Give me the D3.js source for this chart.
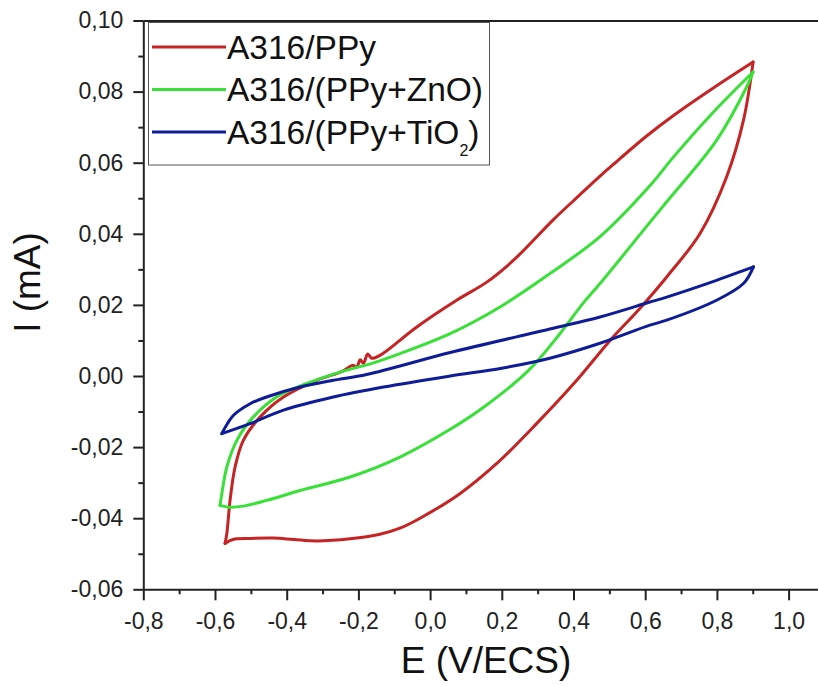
<!DOCTYPE html>
<html>
<head>
<meta charset="utf-8">
<script src="https://cdn.jsdelivr.net/npm/d3@7"></script>
<style>
  body { margin: 0; background: #fff; }
  svg { display: block; font-family: "Liberation Sans", Arial, sans-serif; }
</style>
</head>
<body>
<svg id="chart" width="818" height="686"></svg>
<script>
// cyclic voltammograms, [E (V/ECS), I (mA)], one array per scan branch
const ppyForward = [
  [-0.572, -0.0471], [-0.567, -0.0443], [-0.558, -0.035], [-0.544, -0.0256],
  [-0.521, -0.0181], [-0.474, -0.0115], [-0.409, -0.0059], [-0.316, -0.0012],
  [-0.245, 0.0013], [-0.215, 0.003], [-0.205, 0.0024], [-0.195, 0.0046],
  [-0.186, 0.0036], [-0.174, 0.0062], [-0.163, 0.005], [-0.14, 0.0058],
  [-0.037, 0.0138], [0.074, 0.0213], [0.158, 0.0264], [0.232, 0.0325],
  [0.344, 0.044], [0.4, 0.0493], [0.474, 0.0562], [0.511, 0.0595],
  [0.604, 0.0675], [0.678, 0.0732], [0.79, 0.081], [0.901, 0.0883]
];
const ppyReverse = [
  [0.901, 0.0883], [0.874, 0.0719], [0.827, 0.056], [0.753, 0.0401],
  [0.661, 0.028], [0.585, 0.019], [0.502, 0.01], [0.409, -0.0012],
  [0.297, -0.0134], [0.186, -0.0246], [0.083, -0.0331], [-0.028, -0.04],
  [-0.084, -0.0428], [-0.14, -0.0445], [-0.223, -0.0458], [-0.316, -0.0464],
  [-0.38, -0.046], [-0.437, -0.0456], [-0.502, -0.0457], [-0.55, -0.046],
  [-0.572, -0.0471]
];
const znoForward = [
  [-0.586, -0.0364], [-0.581, -0.0331], [-0.567, -0.0256], [-0.539, -0.0181],
  [-0.493, -0.0115], [-0.428, -0.0059], [-0.344, -0.0021], [-0.251, 0.0011],
  [-0.158, 0.0037], [-0.084, 0.0063], [0.056, 0.0119], [0.195, 0.0194],
  [0.334, 0.0288], [0.474, 0.0392], [0.613, 0.0535], [0.678, 0.0615],
  [0.79, 0.0742], [0.901, 0.0855]
];
const znoReverse = [
  [0.901, 0.0855], [0.883, 0.0813], [0.799, 0.0663], [0.66, 0.049],
  [0.613, 0.0432], [0.474, 0.026], [0.427, 0.0205], [0.362, 0.0119],
  [0.274, 0.0015], [0.153, -0.0085], [0.056, -0.015], [-0.084, -0.0228],
  [-0.223, -0.0284], [-0.363, -0.0322], [-0.456, -0.035], [-0.521, -0.0366],
  [-0.56, -0.0369], [-0.586, -0.0364]
];
const tioForward = [
  [-0.581, -0.0162], [-0.566, -0.0135], [-0.549, -0.0111], [-0.502, -0.0078],
  [-0.456, -0.0059], [-0.363, -0.0031], [-0.27, -0.0012], [-0.177, 0.0004],
  [0.056, 0.0066], [0.334, 0.0132], [0.474, 0.0166], [0.613, 0.0208],
  [0.66, 0.0222], [0.799, 0.0269], [0.883, 0.03], [0.902, 0.0307]
];
const tioReverse = [
  [0.902, 0.0307], [0.874, 0.026], [0.799, 0.0213], [0.66, 0.0157],
  [0.613, 0.0143], [0.474, 0.0092], [0.334, 0.005], [0.2, 0.0022],
  [0.056, 0.0], [-0.13, -0.0031], [-0.27, -0.0059], [-0.409, -0.0096],
  [-0.502, -0.0134], [-0.581, -0.0162]
];

const seriesNames = ['A316/PPy', 'A316/(PPy+ZnO)', 'A316/(PPy+TiO2)'];
const xMajorTicks = [-0.8, -0.6, -0.4, -0.2, 0.0, 0.2, 0.4, 0.6, 0.8, 1.0];
const xMinorTicks = [-0.7, -0.5, -0.3, -0.1, 0.1, 0.3, 0.5, 0.7, 0.9];
const yMajorTicks = [-0.06, -0.04, -0.02, 0.0, 0.02, 0.04, 0.06, 0.08, 0.1];
const yMinorTicks = [-0.05, -0.03, -0.01, 0.01, 0.03, 0.05, 0.07, 0.09];

const colors = ['#c62424', '#38e038', '#0f1c98'];
const branches = [
  [ppyForward, ppyReverse],
  [znoForward, znoReverse],
  [tioForward, tioReverse]
];

const svg = d3.select('#chart');
const margin = { left: 143.3, top: 20.5, bottom: 589.3 };

// the original figure is cut off on the right, so the domain runs past the edge
const x = d3.scaleLinear().domain([-0.8, 1.2]).range([margin.left, margin.left + 2 * 358.5]);
const y = d3.scaleLinear().domain([-0.06, 0.1]).range([margin.bottom, margin.top]);

const comma = d3.formatLocale({ decimal: ',', thousands: '.', grouping: [3], currency: ['', ''], minus: '-' });
const fmtX = comma.format('.1f');
const fmtY = comma.format('.2f');

// top frame line
svg.append('line')
  .attr('x1', x(-0.8)).attr('x2', x(1.2))
  .attr('y1', 21).attr('y2', 21)
  .attr('stroke', '#222').attr('stroke-width', 2);

// curves
const line = d3.line()
  .x((d) => x(d[0]))
  .y((d) => y(d[1]))
  .curve(d3.curveCatmullRom.alpha(0.5));

branches.forEach((pair, i) => {
  pair.forEach((b) => {
    const pts = b.slice().sort((a, c) => a[0] - c[0]);
    svg.append('path')
      .attr('d', line(pts))
      .attr('fill', 'none')
      .attr('stroke', colors[i])
      .attr('stroke-width', 3)
      .attr('stroke-linejoin', 'round')
      .attr('stroke-linecap', 'round');
  });
});

// axes
function styleAxis(g) {
  g.selectAll('path, line').attr('stroke', '#222').attr('stroke-width', 2);
  g.selectAll('text').attr('fill', '#222').attr('font-size', 23)
    .attr('font-family', '"Liberation Sans", Arial, sans-serif');
}

svg.append('g')
  .attr('transform', `translate(0,${margin.bottom})`)
  .call(d3.axisBottom(x).tickValues(xMinorTicks).tickSize(5).tickFormat(''))
  .call((g) => g.select('.domain').remove())
  .call(styleAxis);

svg.append('g')
  .attr('transform', `translate(0,${margin.bottom})`)
  .call(d3.axisBottom(x).tickValues(xMajorTicks).tickSize(11).tickSizeOuter(0).tickPadding(12).tickFormat(fmtX))
  .call(styleAxis);

svg.append('g')
  .attr('transform', `translate(${margin.left},0)`)
  .call(d3.axisLeft(y).tickValues(yMinorTicks).tickSize(5).tickFormat(''))
  .call((g) => g.select('.domain').remove())
  .call(styleAxis);

svg.append('g')
  .attr('transform', `translate(${margin.left},0)`)
  .call(d3.axisLeft(y).tickValues(yMajorTicks).tickSize(10).tickSizeOuter(0).tickPadding(10).tickFormat(fmtY))
  .call(styleAxis);

// axis titles
svg.append('text')
  .attr('x', 486).attr('y', 673)
  .attr('text-anchor', 'middle')
  .attr('font-size', 37).attr('fill', '#111')
  .text('E (V/ECS)');

svg.append('text')
  .attr('transform', 'translate(40,282.5) rotate(-90)')
  .attr('text-anchor', 'middle')
  .attr('font-size', 37).attr('fill', '#111')
  .text('I (mA)');

// legend
const legend = svg.append('g');
legend.append('rect')
  .attr('x', 148.5).attr('y', 22.5)
  .attr('width', 341).attr('height', 142.5)
  .attr('fill', '#fff').attr('stroke', '#555').attr('stroke-width', 1);

const rowY = [47, 89.5, 132];
seriesNames.forEach((name, i) => {
  legend.append('line')
    .attr('x1', 152).attr('x2', 226)
    .attr('y1', rowY[i]).attr('y2', rowY[i])
    .attr('stroke', colors[i]).attr('stroke-width', 3);

  const t = legend.append('text')
    .attr('x', 227).attr('y', rowY[i] + 11.5)
    .attr('font-size', 33.5).attr('fill', '#111');

  if (name.endsWith('TiO2)')) {
    t.append('tspan').text('A316/(PPy+TiO');
    t.append('tspan').attr('font-size', 16).attr('dy', 12).text('2');
    t.append('tspan').attr('dy', -12).text(')');
  } else {
    t.text(name);
  }
});
</script>
</body>
</html>
